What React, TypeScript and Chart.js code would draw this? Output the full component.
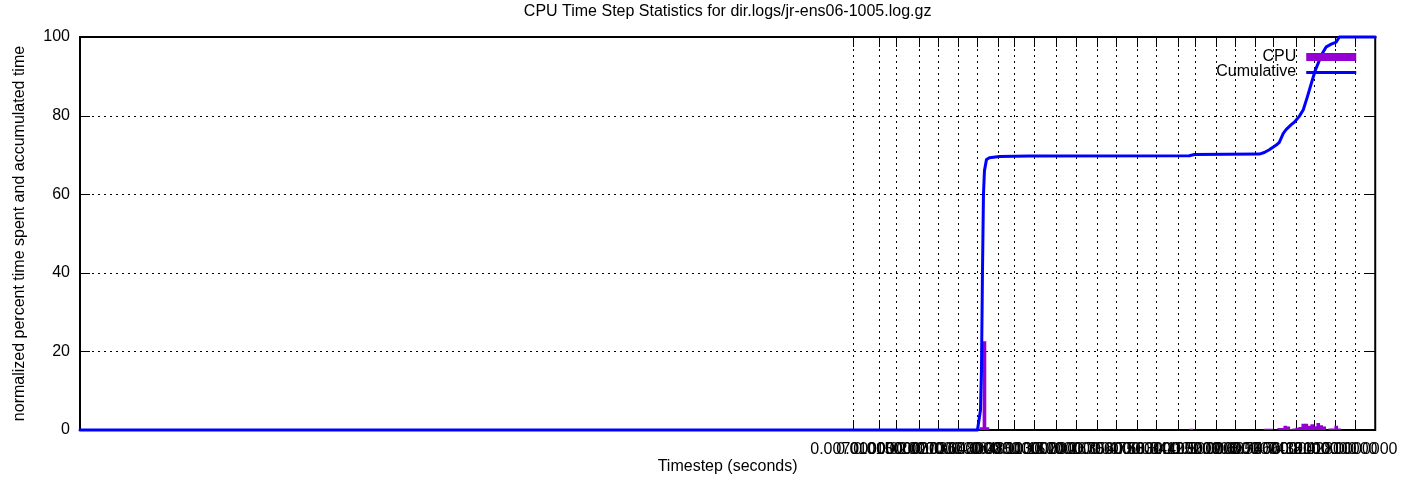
import React, { useEffect, useRef } from "react";
import { Chart, registerables } from "chart.js";

Chart.register(...registerables);

// ---------- data ----------
const chartTitle = "CPU Time Step Statistics for dir.logs/jr-ens06-1005.log.gz";
const xTitle = "Timestep (seconds)";
const yTitle = "normalized percent time spent and accumulated time";

// x axis: timestep bin index (0 .. binMax)
const binMax = 1296;
const tickBins = [
  773, 799, 816, 839, 859, 879, 898, 919, 935, 955, 977, 997, 1018,
  1037, 1058, 1077, 1099, 1116, 1137, 1156, 1176, 1194, 1217, 1235, 1256, 1276,
];
const tickLabels = [
  "0.00700000", "0.01000000", "0.01500000", "0.02000000", "0.02700000",
  "0.03600000", "0.04800000", "0.06400000", "0.08500000", "0.11300000",
  "0.15000000", "0.20000000", "0.26700000", "0.35600000", "0.47500000",
  "0.63300000", "0.84400000", "1.12500000", "1.50000000", "2.00000000",
  "2.66700000", "3.55600000", "4.74100000", "6.32100000", "8.42800000",
  "10.0000000",
];
const yTickValues = [0, 20, 40, 60, 80, 100];

// CPU: normalized percent time spent per bin
const cpuBins = [
  902, 905, 908, 1112, 1186, 1189, 1192, 1200, 1203, 1206, 1209, 1212, 1215,
  1218, 1221, 1224, 1227, 1230, 1233, 1236, 1239, 1242, 1245, 1251, 1254, 1257, 1260,
];
const cpuValues = [
  0.6, 22.5, 0.6, 0.25, 0.25, 0.25, 0.25, 0.4, 0.4, 1.0, 0.8, 0.2, 0.3,
  0.5, 0.7, 1.5, 1.5, 1.0, 1.4, 0.9, 1.7, 1.1, 0.8, 0.3, 0.3, 1.0, 0.3,
];

// Cumulative percent of accumulated time
const cumBins = [
  0, 898, 901, 902, 903, 904, 905, 907, 910, 920, 950, 1110, 1115, 1180, 1185,
  1190, 1197, 1200, 1204, 1207, 1212, 1215, 1220, 1224, 1228, 1233, 1236, 1240,
  1243, 1247, 1252, 1257, 1260, 1296,
];
const cumValues = [
  0, 0, 5, 15, 40, 60, 66, 68.8, 69.3, 69.6, 69.7, 69.8, 70.1, 70.2, 70.6,
  71.3, 72.5, 73.2, 75.5, 76.5, 77.7, 78.3, 79.8, 81.5, 84.7, 89, 91.5, 94,
  95.8, 97.5, 98.2, 98.7, 100, 100,
];

// ---------- styles ----------
const FONT_FAMILY = "'Liberation Sans', Arial, Helvetica, sans-serif";
const FONT_SIZE = 16;
const CPU_COLOR = "#9400d3";
const CUM_COLOR = "#0000ff";
const TICK_LEN = 10;

const gnuplotDecor = {
  id: "gnuplotDecor",
  beforeDatasetsDraw(chart: any) {
    const { ctx, chartArea } = chart;
    const { left, right, top, bottom } = chartArea;
    const xs = chart.scales.x;
    const ys = chart.scales.y;
    ctx.save();
    // dotted grid
    ctx.strokeStyle = "#000";
    ctx.lineWidth = 1;
    ctx.setLineDash([2, 4]);
    ctx.beginPath();
    for (const v of tickBins) {
      const px = Math.round(xs.getPixelForValue(v)) + 0.5;
      ctx.moveTo(px, top);
      ctx.lineTo(px, bottom);
    }
    for (const v of yTickValues) {
      if (v === 0 || v === 100) continue;
      const py = Math.round(ys.getPixelForValue(v)) + 0.5;
      ctx.moveTo(left, py);
      ctx.lineTo(right, py);
    }
    ctx.stroke();
    // tick marks (inward, mirrored)
    ctx.setLineDash([]);
    ctx.beginPath();
    for (const v of tickBins) {
      const px = Math.round(xs.getPixelForValue(v)) + 0.5;
      ctx.moveTo(px, bottom);
      ctx.lineTo(px, bottom - TICK_LEN);
      ctx.moveTo(px, top);
      ctx.lineTo(px, top + TICK_LEN);
    }
    for (const v of yTickValues) {
      const py = Math.round(ys.getPixelForValue(v)) + 0.5;
      ctx.moveTo(left, py);
      ctx.lineTo(left + TICK_LEN, py);
      ctx.moveTo(right, py);
      ctx.lineTo(right - TICK_LEN, py);
    }
    ctx.stroke();
    // frame
    ctx.lineWidth = 2;
    ctx.strokeRect(left, top, right - left, bottom - top);
    ctx.restore();
  },
  afterDraw(chart: any) {
    const { ctx, chartArea } = chart;
    const { left, right, top, bottom } = chartArea;
    const cx = (left + right) / 2;
    ctx.save();
    ctx.fillStyle = "#000";
    ctx.font = `${FONT_SIZE}px ${FONT_FAMILY}`;
    ctx.textAlign = "center";
    ctx.textBaseline = "middle";
    ctx.fillText(chartTitle, cx, 12);
    ctx.fillText(xTitle, cx, 467);
    ctx.save();
    ctx.translate(20, (top + bottom) / 2);
    ctx.rotate(-Math.PI / 2);
    ctx.fillText(yTitle, 0, 0);
    ctx.restore();
    // legend
    const textRight = right - 79;
    const sampleL = right - 69;
    const sampleR = right - 19;
    ctx.textAlign = "right";
    ctx.fillText("CPU", textRight, 57);
    ctx.fillText("Cumulative", textRight, 72);
    ctx.fillStyle = CPU_COLOR;
    ctx.fillRect(sampleL, 53, sampleR - sampleL, 8);
    ctx.strokeStyle = CUM_COLOR;
    ctx.lineWidth = 3;
    ctx.beginPath();
    ctx.moveTo(sampleL, 72.5);
    ctx.lineTo(sampleR, 72.5);
    ctx.stroke();
    ctx.restore();
  },
};

export default function App() {
  const canvasRef = useRef<HTMLCanvasElement | null>(null);

  useEffect(() => {
    document.body.style.margin = "0";
    const canvas = canvasRef.current;
    if (!canvas) return;
    const chart = new Chart(canvas, {
      type: "bar",
      data: {
        datasets: [
          {
            type: "line",
            label: "Cumulative",
            data: cumBins.map((b, i) => ({ x: b, y: cumValues[i] })),
            borderColor: CUM_COLOR,
            backgroundColor: CUM_COLOR,
            borderWidth: 3,
            pointRadius: 0,
            tension: 0,
            borderJoinStyle: "round",
            borderCapStyle: "round",
            clip: false,
            order: 0,
          } as any,
          {
            type: "bar",
            label: "CPU",
            data: cpuBins.map((b, i) => ({ x: b, y: cpuValues[i] })),
            backgroundColor: CPU_COLOR,
            borderWidth: 0,
            barPercentage: 1,
            categoryPercentage: 1,
            order: 1,
          } as any,
        ],
      },
      options: {
        animation: false,
        responsive: false,
        devicePixelRatio: 1,
        layout: { padding: { top: 37, right: 32, left: 0, bottom: 0 } },
        plugins: {
          legend: { display: false },
          title: { display: false },
          tooltip: { enabled: false },
        },
        scales: {
          x: {
            type: "linear",
            min: 0,
            max: binMax,
            offset: false,
            grid: { display: false, drawTicks: false, offset: false },
            border: { display: false },
            afterBuildTicks: (scale: any) => {
              scale.ticks = tickBins.map((v) => ({ value: v }));
            },
            afterFit: (scale: any) => {
              scale.height = 57;
            },
            ticks: {
              autoSkip: false,
              maxRotation: 0,
              minRotation: 0,
              padding: 10,
              color: "#000",
              font: { family: FONT_FAMILY, size: FONT_SIZE },
              callback: (_v: any, i: number) => tickLabels[i],
            },
          },
          y: {
            type: "linear",
            min: 0,
            max: 100,
            grid: { display: false, drawTicks: false },
            border: { display: false },
            afterBuildTicks: (scale: any) => {
              scale.ticks = yTickValues.map((v) => ({ value: v }));
            },
            afterFit: (scale: any) => {
              scale.width = 80;
            },
            ticks: {
              padding: 10,
              color: "#000",
              font: { family: FONT_FAMILY, size: FONT_SIZE },
              callback: (v: any) => String(v),
            },
          },
        },
      },
      plugins: [gnuplotDecor],
    });
    return () => chart.destroy();
  }, []);

  return (
    <div style={{ width: 1408, height: 487, background: "#fff" }}>
      <canvas ref={canvasRef} width={1408} height={487} style={{ display: "block" }} />
    </div>
  );
}
